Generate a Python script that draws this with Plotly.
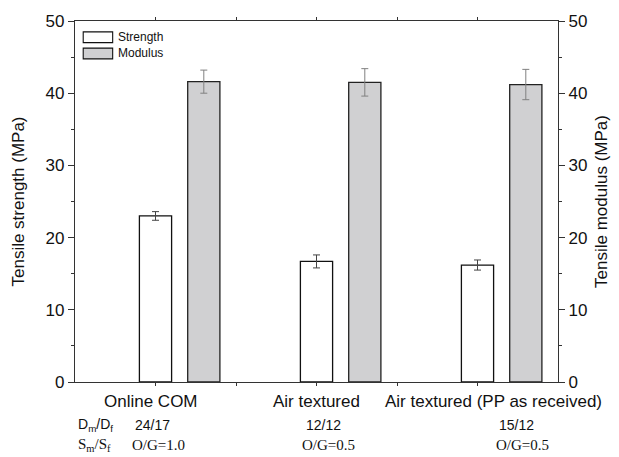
import plotly.graph_objects as go

categories = ["Online COM", "Air textured", "Air textured (PP as received)"]
strength = [23.0, 16.7, 16.2]
strength_err = [0.6, 0.9, 0.7]
modulus = [41.6, 41.5, 41.2]
modulus_err = [1.6, 1.9, 2.1]
dm_df = ["24/17", "12/12", "15/12"]
sm_sf = ["O/G=1.0", "O/G=0.5", "O/G=0.5"]

pos = [i + 1 for i in range(len(categories))]
pos_mod = [p + 0.3 for p in pos]

fig = go.Figure()
fig.add_trace(go.Bar(
    x=pos, y=strength, width=0.2, name="Strength",
    marker=dict(color="white", line=dict(color="#111111", width=1.3)),
    error_y=dict(type="data", array=strength_err, color="#444444", thickness=1, width=3.5),
    yaxis="y", showlegend=False))
fig.add_trace(go.Bar(
    x=pos_mod, y=modulus, width=0.2, name="Modulus",
    marker=dict(color="#d0d0d2", line=dict(color="#222222", width=1.3)),
    error_y=dict(type="data", array=modulus_err, color="#808080", thickness=1, width=3.5),
    yaxis="y2", showlegend=False))

axis_font = dict(family="Liberation Sans, Arial, sans-serif", size=17, color="#111111")

fig.update_layout(
    width=619, height=457,
    margin=dict(l=75, r=59, t=20, b=75),
    plot_bgcolor="white", paper_bgcolor="white",
    barmode="overlay",
    font=axis_font,
    xaxis=dict(range=[0.5, 3.5], tickvals=[1, 1.5, 2, 2.5, 3], ticktext=["", "", "", "", ""],
               ticks="outside", ticklen=3, tickcolor="#333333",
               showline=True, linecolor="#333333", linewidth=1.3, mirror="ticks",
               showgrid=False, zeroline=False),
    yaxis=dict(range=[0, 50], tickvals=[0, 10, 20, 30, 40, 50], ticks="outside", ticklen=6,
               tickcolor="#333333", showline=True, linecolor="#333333", linewidth=1.3,
               minor=dict(tickvals=[5, 15, 25, 35, 45], ticks="outside", ticklen=3, tickcolor="#333333"),
               showgrid=False, zeroline=False,
               title=dict(text="Tensile strength (MPa)", font=axis_font, standoff=16),
               tickfont=axis_font),
    yaxis2=dict(range=[0, 50], tickvals=[0, 10, 20, 30, 40, 50], ticks="outside", ticklen=6,
                tickcolor="#333333", showline=True, linecolor="#333333", linewidth=1.3,
                minor=dict(tickvals=[5, 15, 25, 35, 45], ticks="outside", ticklen=3, tickcolor="#333333"),
                overlaying="y", side="right", showgrid=False, zeroline=False,
                title=dict(text="Tensile modulus (MPa)", font=axis_font, standoff=8),
                tickfont=axis_font),
)

# Category labels
label_x = [0.97, 2.0, 3.1]
for cx, c in zip(label_x, categories):
    fig.add_annotation(x=cx, xref="x", y=-0.055, yref="paper", text=c, showarrow=False,
                       xanchor="center", yanchor="middle",
                       font=dict(family="Liberation Sans, Arial, sans-serif", size=17, color="#111111"))

# Parameter rows
sans = dict(family="Liberation Sans, Arial, sans-serif", size=14, color="#111111")
serif = dict(family="Liberation Serif, Times New Roman, serif", size=15, color="#111111")
fig.add_annotation(x=0.506, xref="x", y=-0.12, yref="paper", text="D<sub>m</sub>/D<sub>f</sub>",
                   showarrow=False, xanchor="left", yanchor="middle", font=sans)
fig.add_annotation(x=0.506, xref="x", y=-0.175, yref="paper", text="S<sub>m</sub>/S<sub>f</sub>",
                   showarrow=False, xanchor="left", yanchor="middle", font=serif)
row_x = [0.86, 1.92, 3.12]
for rx, d, s in zip(row_x, dm_df, sm_sf):
    fig.add_annotation(x=rx, xref="x", y=-0.12, yref="paper", text=d, showarrow=False,
                       xanchor="left", yanchor="middle", font=sans)
    fig.add_annotation(x=rx - 0.02, xref="x", y=-0.175, yref="paper", text=s, showarrow=False,
                       xanchor="left", yanchor="middle", font=serif)

# Manual legend
leg = [("Strength", "white", 0.955), ("Modulus", "#d0d0d2", 0.91)]
for name, col, yy in leg:
    fig.add_shape(type="rect", xref="paper", yref="paper", x0=0.017, x1=0.078,
                  y0=yy - 0.015, y1=yy + 0.015, fillcolor=col,
                  line=dict(color="#111111", width=1.1))
    fig.add_annotation(x=0.085, xref="paper", y=yy, yref="paper", text=name, showarrow=False,
                       xanchor="left", yanchor="middle",
                       font=dict(family="Liberation Sans, Arial, sans-serif", size=12, color="#111111"))

fig.write_html("out.html", config={"displayModeBar": False},
               post_script="document.body.style.margin='0';document.body.style.overflow='hidden';")
